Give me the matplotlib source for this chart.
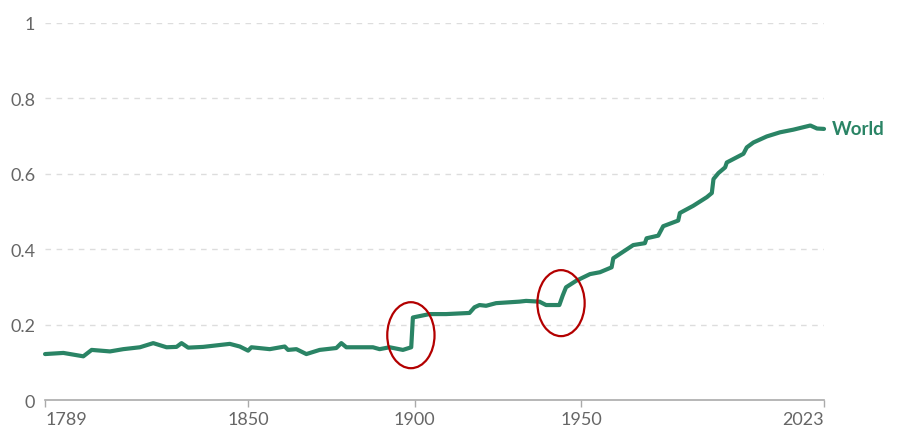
import matplotlib.pyplot as plt
from matplotlib.patches import Ellipse

years = [1789, 1794.5, 1800.5, 1803, 1808.5, 1812.5, 1817.5, 1821.5, 1825.5, 1828.5,
         1830, 1832, 1836.5, 1844.5, 1847.5, 1850, 1851, 1856.5, 1861, 1862,
         1864.5, 1867.5, 1871.5, 1876.5, 1878, 1879.5, 1887.5, 1889.5, 1892.5, 1896.5,
         1899, 1899.5, 1904.5, 1909.5, 1916.5, 1918, 1919.5, 1921.5, 1924.5, 1931.5,
         1933.5, 1937.5, 1939.5, 1943.5, 1944.5, 1945.5, 1948.5, 1952.7, 1955.7, 1959.2,
         1959.7, 1965.7, 1969.2, 1969.7, 1973.2, 1974.7, 1979.2, 1979.7, 1983.7, 1987.8,
         1989.3, 1989.8, 1991.3, 1993.3, 1993.8, 1998.8, 1999.8, 2001.8, 2005.8, 2009.8,
         2013.8, 2018.9, 2020.9, 2023]
values = [0.122, 0.125, 0.116, 0.133, 0.129, 0.135, 0.140, 0.151, 0.140, 0.141,
          0.151, 0.139, 0.141, 0.149, 0.142, 0.131, 0.140, 0.135, 0.142, 0.133,
          0.135, 0.122, 0.133, 0.138, 0.151, 0.140, 0.140, 0.135, 0.140, 0.133,
          0.140, 0.219, 0.228, 0.228, 0.231, 0.246, 0.252, 0.250, 0.257, 0.261,
          0.263, 0.261, 0.252, 0.252, 0.277, 0.299, 0.316, 0.334, 0.339, 0.352,
          0.376, 0.411, 0.416, 0.429, 0.436, 0.461, 0.476, 0.496, 0.515, 0.538,
          0.549, 0.586, 0.602, 0.617, 0.630, 0.653, 0.670, 0.683, 0.699, 0.710,
          0.717, 0.728, 0.720, 0.719]

x_ticks = [1789, 1850, 1900, 1950, 2023]
y_ticks = [0, 0.2, 0.4, 0.6, 0.8, 1]
y_labels = ["0", "0.2", "0.4", "0.6", "0.8", "1"]

# circled spots: (center year, center value)
circles = [(1898.9, 0.172), (1944.0, 0.257)]

green = "#2a8465"
gray = "#666666"

plt.rcParams['font.family'] = ['Lato', 'DejaVu Sans']

fig = plt.figure(figsize=(9.1, 4.35), dpi=100)
ax = fig.add_axes([0.0495, 0.078, 0.856, 0.867])

ax.plot(years, values, color=green, linewidth=3.0, solid_joinstyle='round',
        solid_capstyle='round', clip_on=False, zorder=3)

for cx, cy in circles:
    ax.add_patch(Ellipse((cx, cy), width=14.2, height=0.175, fill=False,
                         edgecolor="#b30000", linewidth=1.6, zorder=4))

ax.text(years[-1] + 2.4, values[-1], "World", color=green, fontsize=13.5,
        fontweight='bold', va='center', ha='left')

ax.set_xlim(1789, 2023)
ax.set_ylim(0, 1)
ax.set_xticks(x_ticks)
ax.set_xticklabels([str(t) for t in x_ticks])
ax.set_yticks(y_ticks)
ax.set_yticklabels(y_labels)

labels = ax.get_xticklabels()
labels[0].set_horizontalalignment('left')
labels[-1].set_horizontalalignment('right')

for y in y_ticks[1:]:
    ax.axhline(y, color="#dddddd", linewidth=1, dashes=(4, 4), zorder=1)

for s in ['top', 'right', 'left']:
    ax.spines[s].set_visible(False)
ax.spines['bottom'].set_color("#aaaaaa")
ax.spines['bottom'].set_linewidth(1.2)

ax.tick_params(axis='x', colors="#aaaaaa", labelcolor=gray, labelsize=13,
               length=5, width=1, pad=3)
ax.tick_params(axis='y', length=0, labelcolor=gray, labelsize=13, pad=7)

fig.savefig("out.png", dpi=100)
